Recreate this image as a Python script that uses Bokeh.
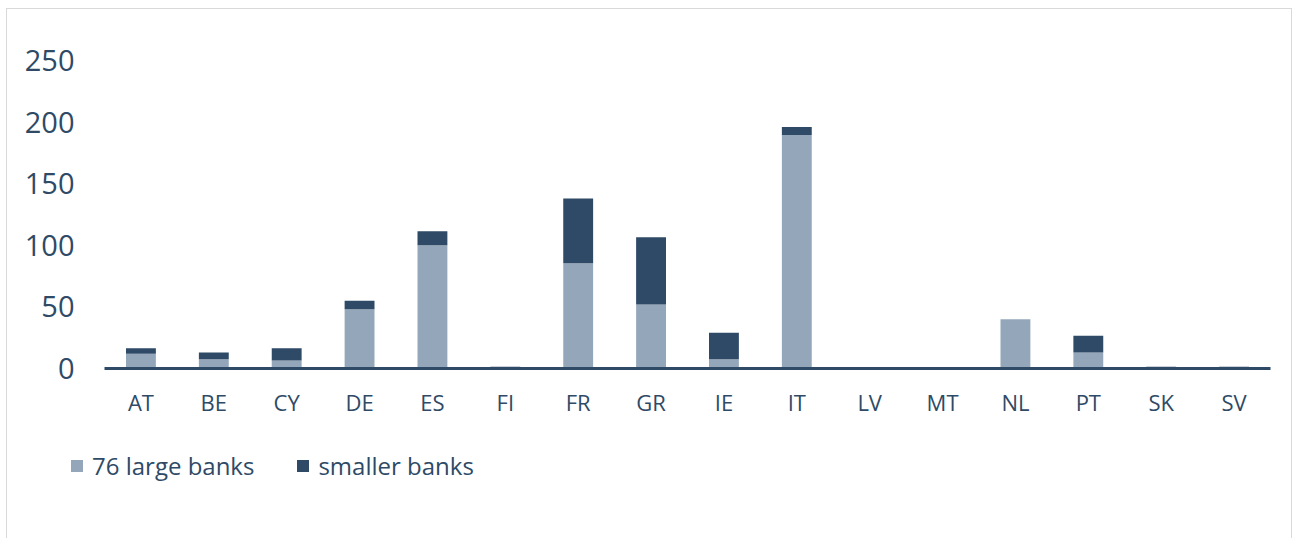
from bokeh.plotting import figure
from bokeh.layouts import column
from bokeh.models import Range1d, FactorRange, Legend, LegendItem, ColumnDataSource, FixedTicker
from bokeh.embed import file_html
from bokeh.resources import INLINE

countries = ["AT", "BE", "CY", "DE", "ES", "FI", "FR", "GR", "IE", "IT", "LV", "MT", "NL", "PT", "SK", "SV"]
large_banks = [12, 7.5, 6.5, 48, 100, 0, 85.5, 52, 7.5, 189.5, 0, 0, 40, 13, 0, 0]
smaller_banks = [4.5, 5.5, 10, 7, 11.5, 1.5, 52.5, 54.5, 21.5, 6.5, 0, 0, 0, 13.5, 1.5, 1.5]
y_ticks = [0, 50, 100, 150, 200, 250]
series_names = ["76 large banks", "smaller banks"]

LIGHT = "#94A7BA"
DARK = "#2E4A66"
TEXT = "#2E4A66"
BORDER = "1px solid #D9D9D9"
FONT = "Open Sans"

src = ColumnDataSource(dict(country=countries, large=large_banks, smaller=smaller_banks))

p = figure(
    x_range=FactorRange(*countries, range_padding=0),
    y_range=Range1d(0, 250),
    width=1286, height=422,
    output_backend="svg", toolbar_location=None, tools="",
    min_border_left=97, min_border_right=23, min_border_top=51, min_border_bottom=63,
)
p.styles = {"border-top": BORDER, "border-left": BORDER, "border-right": BORDER,
            "margin-left": "6px", "margin-top": "8px"}
p.outline_line_color = None
p.xgrid.grid_line_color = None
p.ygrid.grid_line_color = None
p.background_fill_color = "white"
p.border_fill_color = "white"

rs = p.vbar_stack(["large", "smaller"], x="country", width=0.41, source=src,
                  color=[LIGHT, DARK], line_color=None)

yax = p.yaxis[0]
yax.ticker = FixedTicker(ticks=y_ticks)
yax.axis_line_color = None
yax.major_tick_line_color = None
yax.minor_tick_line_color = None
yax.major_tick_out = 0
yax.major_tick_in = 0
yax.major_label_standoff = 30
yax.major_label_text_font = FONT
yax.major_label_text_font_size = "29px"
yax.major_label_text_color = TEXT

xax = p.xaxis[0]
xax.axis_line_color = DARK
xax.axis_line_width = 3
xax.major_tick_line_color = None
xax.minor_tick_line_color = None
xax.major_tick_out = 0
xax.major_tick_in = 0
xax.major_label_standoff = 18
xax.major_label_text_font = FONT
xax.major_label_text_font_size = "22px"
xax.major_label_text_color = TEXT

# legend strip below the chart; swatch renderers have zero height so draw nothing
lg = figure(
    x_range=Range1d(0, 1), y_range=Range1d(0, 1),
    width=1286, height=108,
    x_axis_location=None, y_axis_location=None,
    output_backend="svg", toolbar_location=None, tools="",
    min_border=0, min_border_left=0, min_border_right=0, min_border_top=0, min_border_bottom=0,
)
lg.styles = {"border-left": BORDER, "border-right": BORDER, "margin-left": "6px"}
lg.xgrid.grid_line_color = None
lg.ygrid.grid_line_color = None
lg.outline_line_color = None
lg.background_fill_color = "white"
lg.border_fill_color = "white"
sw_large = lg.vbar(x=[0.5], top=[0], bottom=[0], width=0.0, fill_color=LIGHT, line_color=None)
sw_small = lg.vbar(x=[0.5], top=[0], bottom=[0], width=0.0, fill_color=DARK, line_color=None)

legend = Legend(
    items=[LegendItem(label=series_names[0], renderers=[sw_large]),
           LegendItem(label=series_names[1], renderers=[sw_small])],
    orientation="horizontal", location=(62, 56),
    padding=0, margin=0, border_line_color=None, background_fill_alpha=0,
    glyph_width=15, glyph_height=15, label_standoff=8, spacing=41,
    label_text_font=FONT, label_text_font_size="24px", label_text_color=TEXT,
)
lg.add_layout(legend, "center")

layout = column(p, column(lg, spacing=0), spacing=0)
open("out.html", "w").write(file_html(layout, INLINE))
